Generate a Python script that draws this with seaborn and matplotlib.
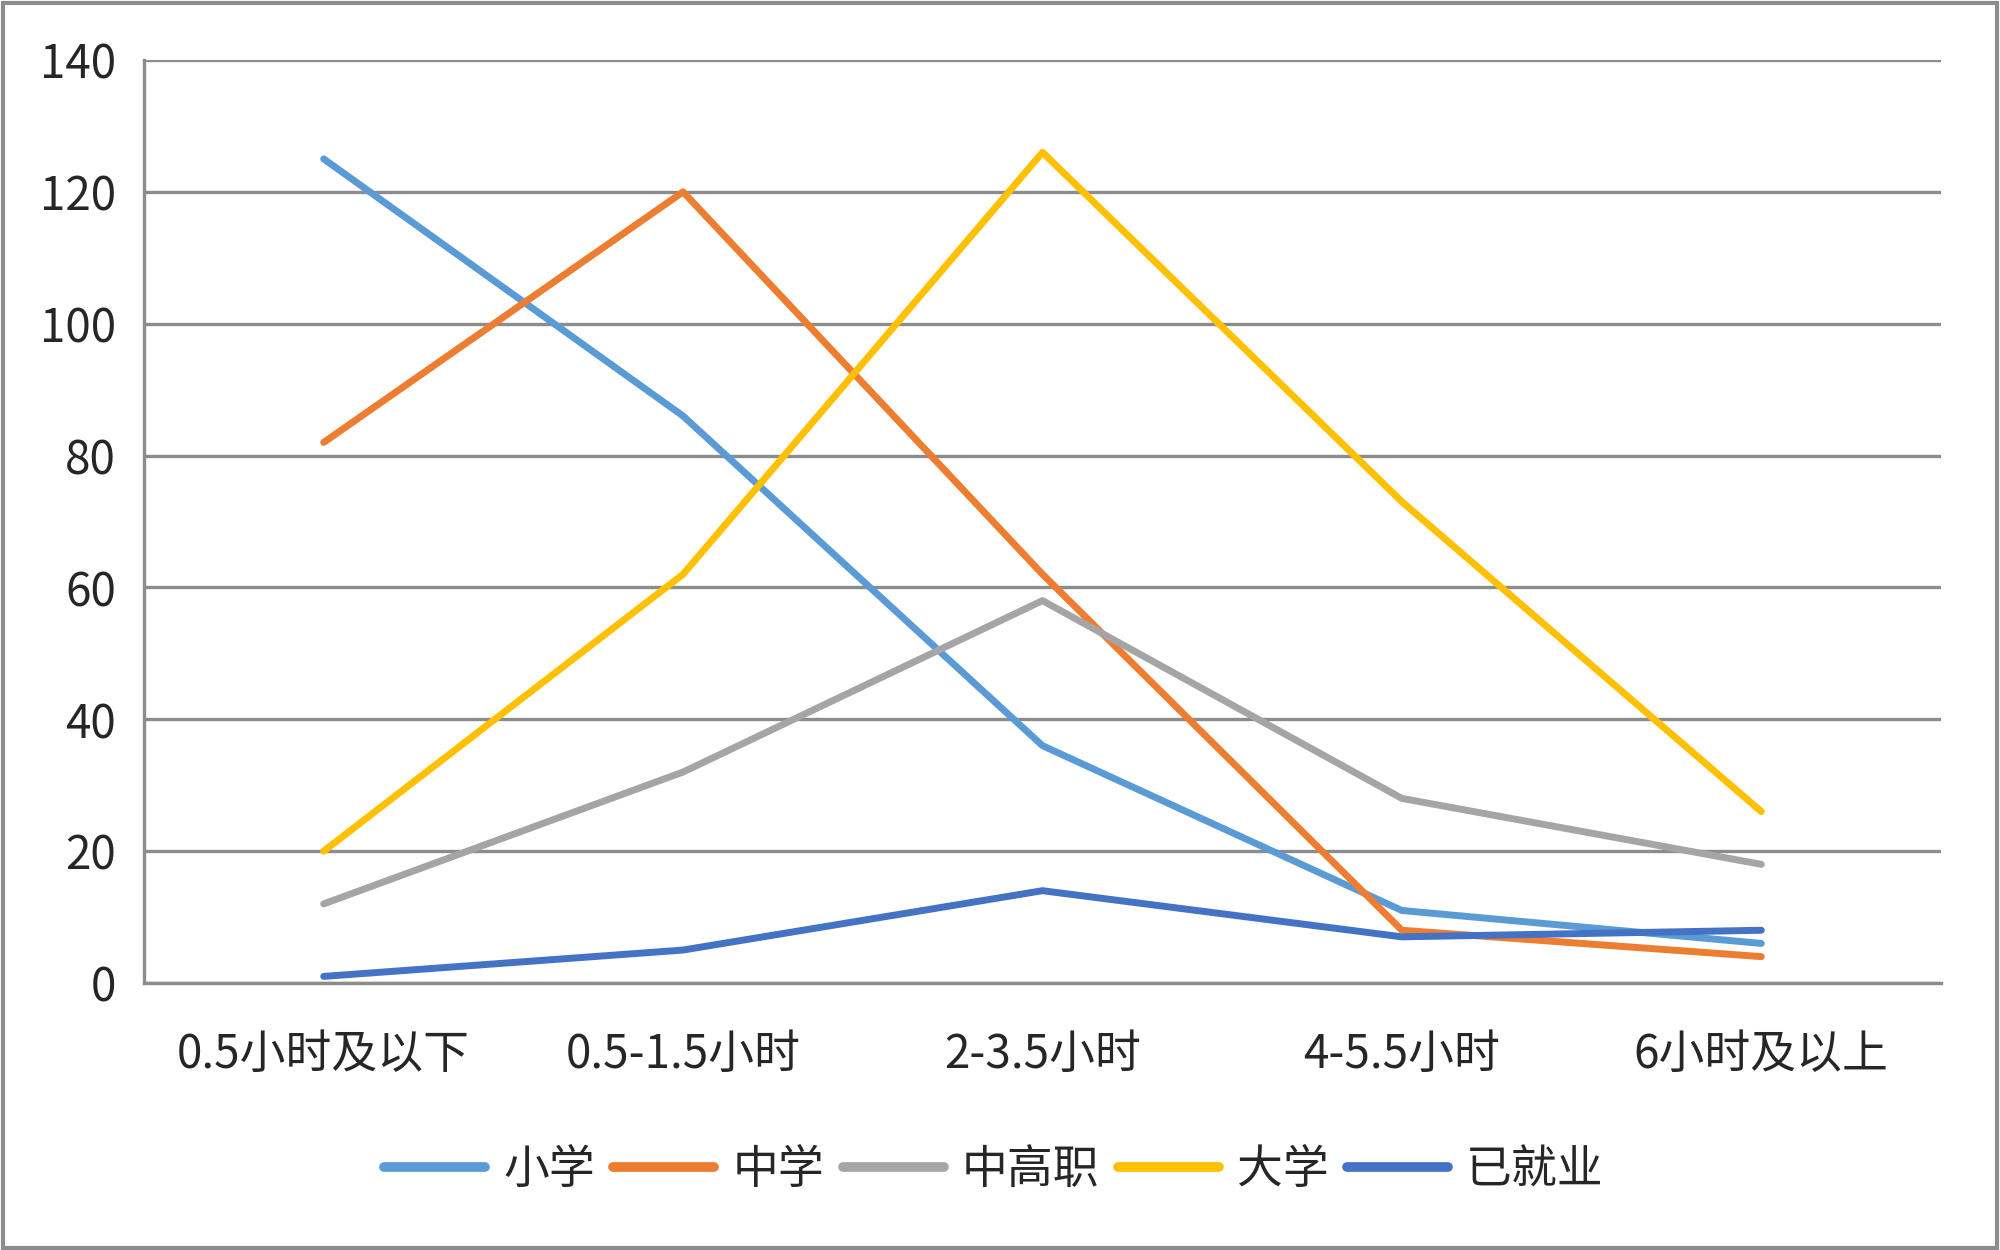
import matplotlib
matplotlib.use("Agg")
import matplotlib.pyplot as plt
from matplotlib.patches import Rectangle
from matplotlib.ticker import FixedLocator
import pandas as pd
import seaborn as sns

categories = ["0.5小时及以下", "0.5-1.5小时", "2-3.5小时", "4-5.5小时", "6小时及以上"]
series_names = ["小学", "中学", "中高职", "大学", "已就业"]
xiaoxue = [125, 86, 36, 11, 6]
zhongxue = [82, 120, 62, 8, 4]
zhonggaozhi = [12, 32, 58, 28, 18]
daxue = [20, 62, 126, 73, 26]
yijiuye = [1, 5, 14, 7, 8]
colors = ["#5B9BD5", "#ED7D31", "#A5A5A5", "#FFC000", "#4472C4"]

rows = []
for name, vals in zip(series_names, [xiaoxue, zhongxue, zhonggaozhi, daxue, yijiuye]):
    for cat, v in zip(categories, vals):
        rows.append({"时长": cat, "人数": v, "组别": name})
df = pd.DataFrame(rows)

sns.set_style("white")
plt.rcParams["font.family"] = ["Noto Sans CJK SC", "DejaVu Sans"]

fig = plt.figure(figsize=(20, 12.5), dpi=100)
ax = fig.add_axes([0.072, 0.2136, 0.8985, 0.7384])

sns.lineplot(data=df, x="时长", y="人数", hue="组别", hue_order=series_names,
             palette=colors, linewidth=5, sort=False, ax=ax)

grid_c = "#8c8c8c"
ax.set_ylim(0, 140)
ax.set_yticks(range(0, 141, 20))
ax.set_xlim(-0.5, 4.5)
ax.xaxis.set_minor_locator(FixedLocator([i - 0.5 for i in range(6)]))
ax.grid(axis="y", color=grid_c, linewidth=2.4)
ax.set_axisbelow(True)
ax.tick_params(axis="y", which="major", length=12, width=2.4, color=grid_c,
               labelsize=33, pad=8)
ax.tick_params(axis="x", which="major", length=0, labelsize=33, pad=34)
ax.tick_params(axis="x", which="minor", length=12, width=2.4, color=grid_c)
for s in ["top", "right"]:
    ax.spines[s].set_visible(False)
for s in ["left", "bottom"]:
    ax.spines[s].set_color(grid_c)
    ax.spines[s].set_linewidth(2.4)
ax.set_xlabel("")
ax.set_ylabel("")

leg = ax.legend(loc="center", bbox_to_anchor=(0.497, 0.064), bbox_transform=fig.transFigure,
                ncol=5, frameon=False, fontsize=33, handlelength=2.2,
                columnspacing=0.4, handletextpad=0.4)
for line in leg.get_lines():
    line.set_linewidth(7)
    line.set_solid_capstyle("round")

fig.add_artist(Rectangle((0.0015, 0.002), 0.997, 0.996, transform=fig.transFigure,
                         fill=False, edgecolor=grid_c, linewidth=3))

fig.savefig("out.png", dpi=100, facecolor="white")
